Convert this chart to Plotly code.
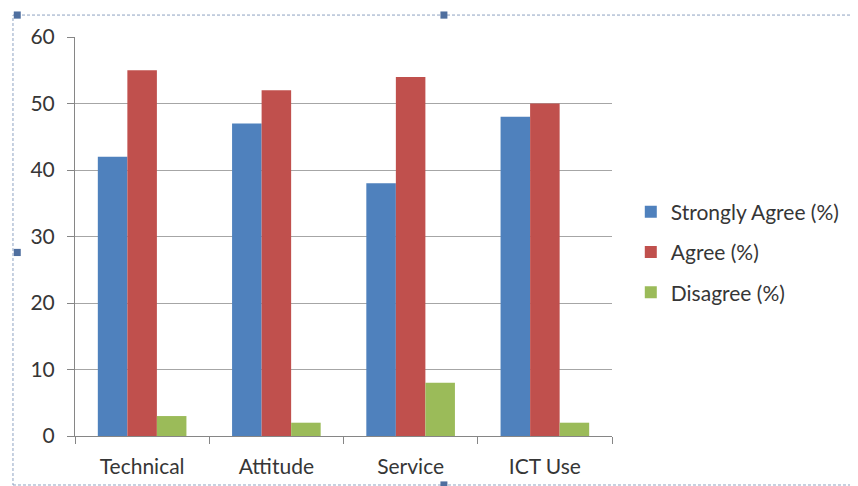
import plotly.graph_objects as go

# Survey responses by category
categories = ["Technical", "Attitude", "Service", "ICT Use"]
strongly_agree = [42, 47, 38, 48]
agree = [55, 52, 54, 50]
disagree = [3, 2, 8, 2]

series = [
    ("Strongly Agree (%)", strongly_agree, "#4f81bd"),
    ("Agree (%)", agree, "#c0504d"),
    ("Disagree (%)", disagree, "#9bbb59"),
]

fig = go.Figure()
for i, (name, vals, color) in enumerate(series):
    fig.add_trace(go.Bar(
        x=categories, y=vals, name=name,
        marker=dict(color=color, line=dict(width=0)),
        legendgroup=str(i),
    ))

font = "Lato, 'Open Sans', sans-serif"
axis_col = "#868686"

# page body adds 8px margin, so offsets are reduced by 8
fig.update_layout(
    width=858, height=486,
    margin=dict(l=67, r=254, t=29, b=58),
    paper_bgcolor="white", plot_bgcolor="white",
    barmode="group", bargap=0.34, bargroupgap=0,
    font=dict(family=font, size=21, color="#363636"),
    legend=dict(
        x=1.035, y=0.461, xanchor="left", yanchor="middle",
        tracegroupgap=10, font=dict(size=21),
        itemwidth=30,
    ),
)

fig.update_xaxes(
    showline=True, linecolor=axis_col, linewidth=1,
    ticks="outside", ticklen=7, tickcolor=axis_col,
    tickson="boundaries", showgrid=False,
    ticklabelstandoff=12,
)
fig.update_yaxes(
    range=[0, 60], dtick=10,
    showline=True, linecolor=axis_col, linewidth=1,
    ticks="outside", ticklen=7, tickcolor=axis_col,
    showgrid=True, gridcolor="#a6a6a6", gridwidth=1,
    zeroline=False, ticklabelstandoff=8,
)

# dashed selection frame around the chart object
frame_col = "#8fa3c2"
fig.add_shape(type="rect", xref="paper", yref="paper",
              x0=-0.1155, x1=1.46, y0=-0.1228, y1=1.055,
              line=dict(color=frame_col, width=1, dash="3px,2px"))
handles = [(-0.1155 + 0.008, 1.055), (0.687, 1.055), (-0.1155 + 0.008, 0.46), (0.687, -0.1228)]
for hx, hy in handles:
    fig.add_shape(type="rect", xref="paper", yref="paper",
                  x0=hx - 0.0065, x1=hx + 0.0065, y0=hy - 0.009, y1=hy + 0.009,
                  line=dict(width=0), fillcolor="#4f6f9f")

fig.write_html("out.html")
